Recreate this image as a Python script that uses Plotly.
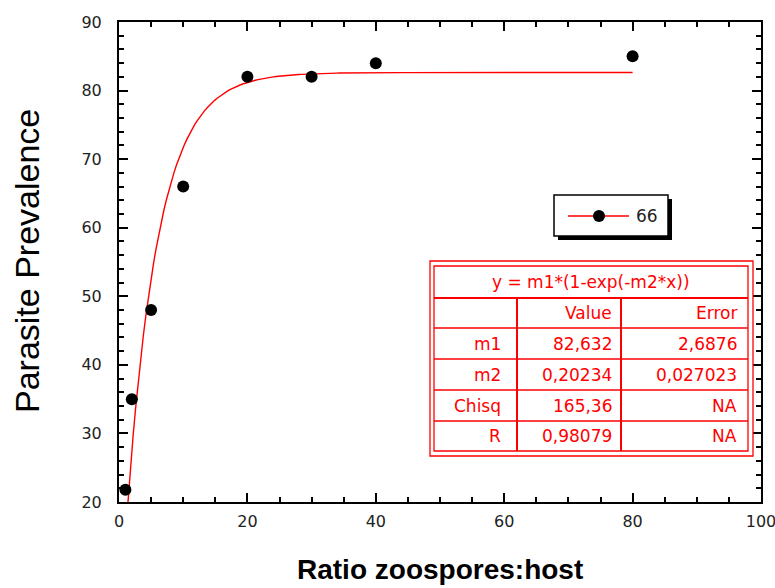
import numpy as np
import plotly.graph_objects as go

# ---- data ----
ratio = [1, 2, 5, 10, 20, 30, 40, 80]
prevalence = [21.8, 35, 48, 66, 82, 82, 84, 85]
series_name = "66"

fit_formula = "y = m1*(1-exp(-m2*x))"
m1 = 82.632
m2 = 0.20234
fit_x_start = 1
fit_x_end = 80

table_header = ["", "Value", "Error"]
table_rows = [
    ["m1", "82,632", "2,6876"],
    ["m2", "0,20234", "0,027023"],
    ["Chisq", "165,36", "NA"],
    ["R", "0,98079", "NA"],
]

x_ticks = [0, 20, 40, 60, 80, 100]
y_ticks = [20, 30, 40, 50, 60, 70, 80, 90]
x_title = "Ratio zoospores:host"
y_title = "Parasite Prevalence"

# ---- layout geometry (pixels) ----
WIDTH, HEIGHT = 775, 588
L, R, T, B = 119, 761, 22, 502
PW, PH = R - L, B - T


def fx(p):
    return (p - L) / PW


def fy(p):
    return (B - p) / PH


RED = "#FF0000"
FONT = "Liberation Sans, Arial, sans-serif"
SMALL_FONT = "DejaVu Sans, Verdana, sans-serif"

fit_x = np.linspace(fit_x_start, fit_x_end, 200)
fit_y = m1 * (1 - np.exp(-m2 * fit_x))

fig = go.Figure()
fig.add_trace(go.Scatter(x=fit_x, y=fit_y, mode="lines",
                         line=dict(color=RED, width=1.4), showlegend=False,
                         hoverinfo="skip"))
fig.add_trace(go.Scatter(x=ratio, y=prevalence, mode="markers",
                         marker=dict(color="black", size=12, symbol="circle"),
                         name=series_name, showlegend=False, cliponaxis=False))

shapes = []
annotations = []

# ---- legend box (manual) ----
lx0, lx1, ly0, ly1 = 554, 668, 195, 236
shapes.append(dict(type="rect", xref="paper", yref="paper",
                   x0=fx(lx0 + 4), x1=fx(lx1 + 4), y0=fy(ly1 + 4), y1=fy(ly0 + 4),
                   line=dict(width=0), fillcolor="black", layer="above"))
shapes.append(dict(type="rect", xref="paper", yref="paper",
                   x0=fx(lx0), x1=fx(lx1), y0=fy(ly1), y1=fy(ly0),
                   line=dict(color="black", width=1.5), fillcolor="white", layer="above"))
shapes.append(dict(type="line", xref="paper", yref="paper",
                   x0=fx(568), x1=fx(629), y0=fy(216), y1=fy(216),
                   line=dict(color=RED, width=1.4), layer="above"))
shapes.append(dict(type="circle", xref="paper", yref="paper",
                   x0=fx(593), x1=fx(605), y0=fy(222), y1=fy(210),
                   line=dict(color="black", width=0), fillcolor="black", layer="above"))
annotations.append(dict(xref="paper", yref="paper", x=fx(634), y=fy(216),
                        text=series_name, showarrow=False, xanchor="left",
                        yanchor="middle", font=dict(family=SMALL_FONT, size=17, color="#222")))

# ---- fit parameter table (manual) ----
ox0, ox1, oy0, oy1 = 430, 753, 261, 456
ix0, ix1, iy0, iy1 = 434, 748, 266, 451
for (a0, a1, b0, b1) in [(ox0, ox1, oy0, oy1), (ix0, ix1, iy0, iy1)]:
    shapes.append(dict(type="rect", xref="paper", yref="paper",
                       x0=fx(a0), x1=fx(a1), y0=fy(b1), y1=fy(b0),
                       line=dict(color=RED, width=1.3),
                       fillcolor="white" if a0 == ox0 else "rgba(0,0,0,0)",
                       layer="above"))
row_lines = [298, 328, 359, 390, 421]
for i, yy in enumerate(row_lines):
    shapes.append(dict(type="line", xref="paper", yref="paper",
                       x0=fx(ix0), x1=fx(ix1), y0=fy(yy), y1=fy(yy),
                       line=dict(color=RED, width=2 if i == 0 else 1.5), layer="above"))
col_lines = [517, 621]
for xx in col_lines:
    shapes.append(dict(type="line", xref="paper", yref="paper",
                       x0=fx(xx), x1=fx(xx), y0=fy(298), y1=fy(iy1),
                       line=dict(color=RED, width=2), layer="above"))

tfont = dict(family=SMALL_FONT, size=17, color=RED)
annotations.append(dict(xref="paper", yref="paper", x=fx((ix0 + ix1) / 2), y=fy(282),
                        text=fit_formula, showarrow=False, xanchor="center",
                        yanchor="middle", font=tfont))
col_right = [503, 614, 739]
row_bounds = [298] + row_lines[1:] + [iy1]
all_rows = [table_header] + table_rows
for r, row in enumerate(all_rows):
    yc = (row_bounds[r] + row_bounds[r + 1]) / 2
    for c, cell in enumerate(row):
        if cell:
            annotations.append(dict(xref="paper", yref="paper", x=fx(col_right[c]),
                                    y=fy(yc), text=cell, showarrow=False,
                                    xanchor="right", yanchor="middle", font=tfont))

# ---- axis titles (placed as annotations for exact position) ----
annotations.append(dict(xref="paper", yref="paper", x=fx(440), y=fy(569),
                        text="<b>" + x_title + "</b>", showarrow=False,
                        xanchor="center", yanchor="middle",
                        font=dict(family=FONT, size=28, color="black")))
annotations.append(dict(xref="paper", yref="paper", x=fx(27), y=fy(261),
                        text=y_title, showarrow=False, textangle=-90,
                        xanchor="center", yanchor="middle",
                        font=dict(family=FONT, size=34, color="black")))

axis_common = dict(showline=True, linecolor="black", linewidth=2, mirror="ticks",
                   ticks="inside", tickcolor="black", tickwidth=2, ticklen=9,
                   showgrid=False, zeroline=False, automargin=False,
                   ticklabeloverflow="allow",
                   tickfont=dict(family=SMALL_FONT, size=16, color="#222"))

fig.update_layout(
    width=WIDTH, height=HEIGHT,
    margin=dict(l=L, r=WIDTH - R, t=T, b=HEIGHT - B, autoexpand=False),
    paper_bgcolor="white", plot_bgcolor="white",
    showlegend=False,
    shapes=shapes, annotations=annotations,
    xaxis=dict(range=[0, 100], tickvals=x_ticks, ticklabelstandoff=4,
               minor=dict(dtick=5, ticks="inside", ticklen=5, tickwidth=2, tickcolor="black"),
               **axis_common),
    yaxis=dict(range=[20, 90], tickvals=y_ticks, ticklabelstandoff=12,
               minor=dict(dtick=2, ticks="inside", ticklen=5, tickwidth=2, tickcolor="black"),
               **axis_common),
)

fig.write_html("out.html",
               config={"displayModeBar": False},
               post_script="document.body.style.margin='0';"
                           "document.body.style.overflow='hidden';")
